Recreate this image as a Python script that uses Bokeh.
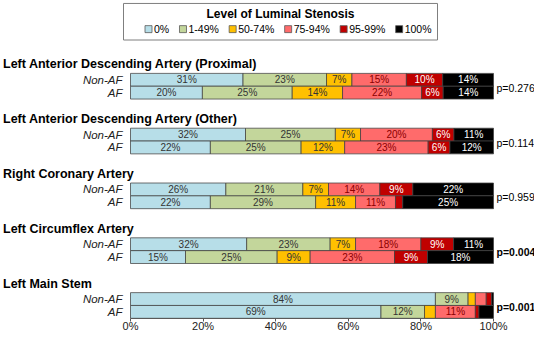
from bokeh.plotting import figure
from bokeh.models import Range1d, FixedTicker, ColumnDataSource
from bokeh.core.properties import value
from bokeh.embed import file_html
from bokeh.resources import INLINE

# ---------------- data ----------------
categories = ["0%", "1-49%", "50-74%", "75-94%", "95-99%", "100%"]
colors = ["#b7dee8", "#c3d69b", "#ffc000", "#ff6b6b", "#c00000", "#000000"]
label_colors = ["#333333", "#333333", "#333333", "#8b0000", "#ffffff", "#ffffff"]
arteries = [
    "Left Anterior Descending Artery (Proximal)",
    "Left Anterior Descending Artery (Other)",
    "Right Coronary Artery",
    "Left Circumflex Artery",
    "Left Main Stem",
]
groups = ["Non-AF", "AF"]
non_af = [
    [31, 23, 7, 15, 10, 14],
    [32, 25, 7, 20, 6, 11],
    [26, 21, 7, 14, 9, 22],
    [32, 23, 7, 18, 9, 11],
    [84, 9, 2, 3, 1.5, 0.5],
]
af = [
    [20, 25, 14, 22, 6, 14],
    [22, 25, 12, 23, 6, 12],
    [22, 29, 11, 11, 2, 25],
    [15, 25, 9, 23, 9, 18],
    [69, 12, 3, 11, 1, 4],
]
p_values = ["p=0.276", "p=0.114", "p=0.959", "p=0.004", "p=0.001"]
p_bold = [False, False, False, True, True]
x_ticks = [0, 20, 40, 60, 80, 100]
x_tick_labels = ["0%", "20%", "40%", "60%", "80%", "100%"]
legend_title = "Level of Luminal Stenosis"

# ---------------- layout (pixel positions) ----------------
W, H = 534, 334
X0_PX, X100_PX = 130.0, 493.0
PX = (X100_PX - X0_PX) / 100.0


def xd(px):
    return (px - X0_PX) / PX


FONT = value("Liberation Sans")
GROUP_STEP = 55.5
FIRST_BOUNDARY = 86.8
BAR_H = 13.0

p = figure(width=W, height=H, output_backend="svg", toolbar_location=None,
           x_range=Range1d(xd(0), xd(W)), y_range=Range1d(322, 0),
           y_axis_location=None,
           min_border_left=0, min_border_right=0, min_border_top=0, min_border_bottom=14)
p.xgrid.visible = False
p.ygrid.visible = False
p.outline_line_color = None
p.background_fill_color = "white"
p.border_fill_color = "white"

ax = p.xaxis[0]
ax.ticker = FixedTicker(ticks=x_ticks)
ax.bounds = (0, 100)
ax.major_label_overrides = {t: l for t, l in zip(x_ticks, x_tick_labels)}
ax.axis_line_color = "#595959"
ax.major_tick_line_color = "#595959"
ax.major_tick_out = 3
ax.major_tick_in = 0
ax.minor_tick_line_color = None
ax.major_label_standoff = -2
ax.major_label_text_font = "Liberation Sans"
ax.major_label_text_font_size = "11px"
ax.major_label_text_color = "#222222"

# bars
seg = dict(left=[], right=[], top=[], bottom=[], color=[])
lab = dict(x=[], y=[], text=[], color=[])
row_lab = dict(x=[], y=[], text=[])
for g in range(len(arteries)):
    b = FIRST_BOUNDARY + GROUP_STEP * g
    for row, (name, vals) in enumerate(zip(groups, [non_af[g], af[g]])):
        top = b - BAR_H if row == 0 else b
        bot = top + BAR_H
        total = sum(vals)
        cum = 0.0
        for k, v in enumerate(vals):
            w = v / total * 100.0
            seg["left"].append(cum)
            seg["right"].append(cum + w)
            seg["top"].append(top)
            seg["bottom"].append(bot)
            seg["color"].append(colors[k])
            if v >= 5:
                lab["x"].append(cum + w / 2)
                lab["y"].append((top + bot) / 2)
                lab["text"].append(f"{round(v)}%")
                lab["color"].append(label_colors[k])
            cum += w
        row_lab["x"].append(xd(122))
        row_lab["y"].append((top + bot) / 2)
        row_lab["text"].append(name)

p.quad(source=ColumnDataSource(seg), left="left", right="right", top="top", bottom="bottom",
       fill_color="color", line_color="#404040", line_width=0.75)
p.text(source=ColumnDataSource(lab), x="x", y="y", text="text", text_color="color",
       text_font=FONT, text_font_size=value("10px"), text_align="center", text_baseline="middle")
p.text(source=ColumnDataSource(row_lab), x="x", y="y", text="text", text_color="#222222",
       text_font=FONT, text_font_size=value("11.5px"), text_font_style="italic",
       text_align="right", text_baseline="middle")

# group titles
p.text(x=[xd(2.5)] * len(arteries),
       y=[FIRST_BOUNDARY + GROUP_STEP * g - 22 for g in range(len(arteries))],
       text=arteries, text_color="#000000", text_font=FONT, text_font_size=value("12.5px"),
       text_font_style="bold", text_align="left", text_baseline="middle")

# p-values
for bold in (False, True):
    idx = [i for i in range(len(p_values)) if p_bold[i] == bold]
    p.text(x=[xd(496)] * len(idx),
           y=[FIRST_BOUNDARY + GROUP_STEP * i + 1.5 for i in idx],
           text=[p_values[i] for i in idx], text_color="#000000", text_font=FONT,
           text_font_size=value("10.5px"),
           text_font_style="bold" if bold else "normal",
           text_align="left", text_baseline="middle")

# legend
LEG_FS = 10.5
char_w = {"%": 0.889, "-": 0.333}


def text_w(s, size=LEG_FS):
    return sum(char_w.get(c, 0.556) for c in s) * size


box_l, box_r, box_t, box_b = 123.0, 437.0, 3.0, 40.0
first_sq, last_end, txt_off = 148.0, 431.0, 5.5
total_w = sum(txt_off + text_w(c) for c in categories)
gap = (last_end - first_sq - total_w) / (len(categories) - 1)
sq_x, tx_x = [], []
cx = first_sq
for c in categories:
    sq_x.append(xd(cx))
    tx_x.append(xd(cx + txt_off))
    cx = cx + txt_off + text_w(c) + gap

p.quad(left=[xd(box_l)], right=[xd(box_r)], top=[box_t], bottom=[box_b],
       fill_color=None, line_color="#7f7f7f", line_width=1)
p.text(x=[xd((box_l + box_r) / 2)], y=[13.5], text=[legend_title], text_color="#000000",
       text_font=FONT, text_font_size=value("12px"), text_font_style="bold",
       text_align="center", text_baseline="middle")
p.scatter(x=sq_x, y=[29.0] * len(categories), marker="square", size=7,
          fill_color=colors, line_color="#595959", line_width=0.8)
p.text(x=tx_x, y=[29.0] * len(categories), text=categories, text_color="#000000",
       text_font=FONT, text_font_size=value(f"{LEG_FS}px"), text_align="left",
       text_baseline="middle")

open("out.html", "w").write(file_html(p, INLINE))
